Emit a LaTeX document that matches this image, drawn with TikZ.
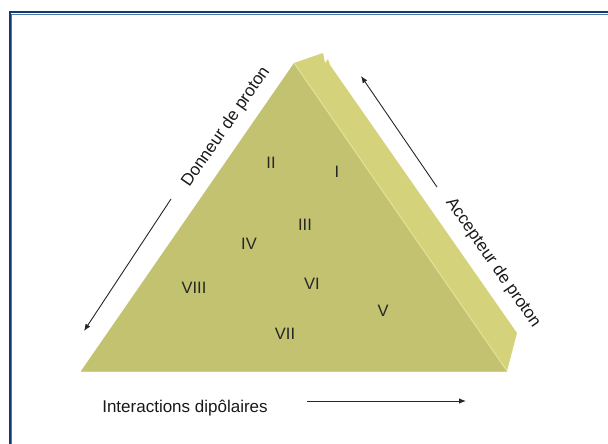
\documentclass[tikz,border=0pt]{standalone}
\usepackage{fontspec}
\setmainfont{Liberation Sans}
\usepackage{tikz}
\usetikzlibrary{
  arrows.meta,
  calc
}
\tikzset{
  every node/.style={inner sep=0pt}
}
\definecolor{frameBlue}{RGB}{18, 58, 112}
\definecolor{frameBlueLight}{RGB}{80, 118, 165}
\definecolor{faceOlive}{RGB}{195, 194, 112}
\definecolor{sideOlive}{RGB}{212, 210, 122}
\definecolor{edgeLight}{RGB}{228, 226, 150}

\begin{document}
\begin{tikzpicture}[
    x=1pt, y=-1pt,
    lbl/.style={font=\fontsize{17}{20}\selectfont, text=black!90},
    num/.style={font=\fontsize{16.5}{20}\selectfont, text=black!85},
    arrow/.style={-{Latex[length=7pt,width=5.5pt]}, draw=black!85, line width=0.9pt}
]
\useasboundingbox (0,0) rectangle (608,444);

    % frame
    \draw[frameBlue, line width=2pt] (9.5,460) -- (9.5,12.5) -- (620,12.5);
    \draw[frameBlueLight, line width=0.8pt] (11,460) -- (11,14) -- (620,14);

    % prism
    \coordinate (apex) at (294,63);
    \coordinate (bl) at (81,371);
    \coordinate (br) at (507,371);
    \fill[sideOlive] (apex) -- (323,53) -- (325,63) -- (328,59) -- (330,65) -- (517,333) -- (br) -- cycle;
    \fill[faceOlive] (bl) -- (apex) -- (br) -- cycle;
    \draw[edgeLight, line width=1pt] (apex) -- (br);
    \draw[sideOlive, line width=0.8pt] (bl) -- (br);

    % zones
    \node[num] (z1) at (337,172) {I};
    \node[num] (z2) at (271,163) {II};
    \node[num] (z3) at (305,225) {III};
    \node[num] (z4) at (249,244) {IV};
    \node[num] (z5) at (383,311) {V};
    \node[num] (z6) at (312,284) {VI};
    \node[num] (z7) at (285,334) {VII};
    \node[num] (z8) at (194,288) {VIII};

    % axes
    \node[lbl, rotate=55.3] (donneur) at (226,127) {Donneur de proton};
    \node[lbl, rotate=-55.2] (accepteur) at (493,263) {Accepteur de proton};
    \node[lbl] (dipol) at (185,408) {Interactions dip\^olaires};

    \coordinate (donA) at (171,199);
    \coordinate (donB) at (84,331);
    \coordinate (accA) at (437,187);
    \coordinate (accB) at (361,76);
    \coordinate (dipA) at (307,401);
    \coordinate (dipB) at (466,401);

    \draw[arrow] (donA) -- (donB);
    \draw[arrow] (accA) -- (accB);
    \draw[arrow] (dipA) -- (dipB);

\end{tikzpicture}
\end{document}
